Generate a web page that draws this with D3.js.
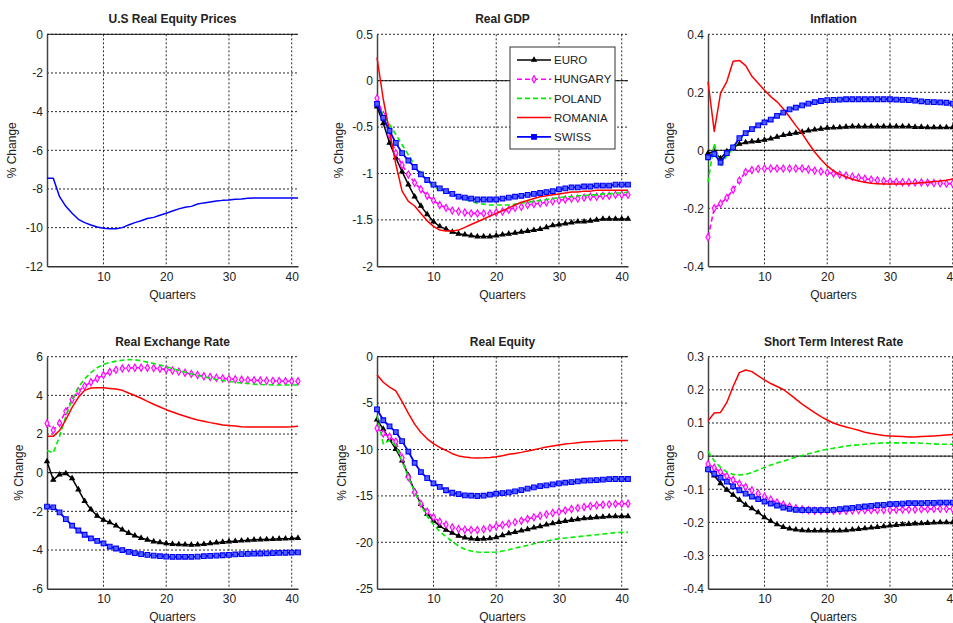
<!DOCTYPE html>
<html>
<head>
<meta charset="utf-8">
<script src="https://cdn.jsdelivr.net/npm/d3@7"></script>
<style>
  body { margin: 0; background: #fff; }
  svg text { font-family: "Liberation Sans", Arial, sans-serif; fill: #222; }
</style>
</head>
<body>
<svg id="chart" width="953" height="623"></svg>
<script>
// quarters 1..41
var quarters = d3.range(1, 42);

// ---- U.S real equity prices
var usEquity = [-7.45,-7.45,-8.4,-8.9,-9.26,-9.57,-9.74,-9.86,-9.97,-10.03,
  -10.06,-10.06,-10.0,-9.86,-9.74,-9.64,-9.53,-9.47,-9.36,-9.26,
  -9.14,-9.03,-8.95,-8.9,-8.78,-8.72,-8.67,-8.62,-8.59,-8.57,
  -8.53,-8.52,-8.48,-8.47,-8.47,-8.47,-8.47,-8.47,-8.47,-8.47,-8.47];

// ---- Real GDP
var gdpEuro = [-0.28,-0.46,-0.67,-0.83,-0.98,-1.12,-1.25,-1.35,-1.44,-1.52,
  -1.57,-1.6,-1.63,-1.65,-1.66,-1.67,-1.68,-1.68,-1.68,-1.67,
  -1.66,-1.65,-1.64,-1.63,-1.62,-1.61,-1.6,-1.58,-1.56,-1.55,
  -1.54,-1.53,-1.52,-1.52,-1.51,-1.5,-1.49,-1.49,-1.49,-1.49,-1.49];
var gdpHungary = [-0.19,-0.37,-0.58,-0.78,-0.91,-1.01,-1.1,-1.17,-1.24,-1.29,
  -1.34,-1.37,-1.4,-1.41,-1.42,-1.43,-1.43,-1.43,-1.43,-1.42,
  -1.41,-1.39,-1.37,-1.36,-1.34,-1.33,-1.32,-1.31,-1.3,-1.29,
  -1.28,-1.27,-1.27,-1.26,-1.25,-1.25,-1.24,-1.24,-1.23,-1.23,-1.23];
var gdpPoland = [-0.24,-0.37,-0.47,-0.58,-0.69,-0.8,-0.91,-0.99,-1.08,-1.14,
  -1.18,-1.21,-1.23,-1.26,-1.28,-1.3,-1.32,-1.33,-1.34,-1.34,
  -1.34,-1.34,-1.33,-1.32,-1.31,-1.3,-1.29,-1.28,-1.27,-1.26,
  -1.25,-1.25,-1.24,-1.24,-1.23,-1.23,-1.22,-1.22,-1.21,-1.21,-1.2];
var gdpRomania = [0.25,-0.2,-0.55,-0.9,-1.19,-1.3,-1.35,-1.43,-1.51,-1.57,
  -1.61,-1.62,-1.62,-1.61,-1.58,-1.55,-1.52,-1.49,-1.46,-1.43,
  -1.4,-1.37,-1.34,-1.31,-1.29,-1.27,-1.25,-1.24,-1.23,-1.22,
  -1.21,-1.2,-1.2,-1.19,-1.19,-1.18,-1.18,-1.18,-1.18,-1.18,-1.18];
var gdpSwiss = [-0.25,-0.4,-0.54,-0.67,-0.78,-0.86,-0.93,-1.01,-1.07,-1.12,
  -1.16,-1.19,-1.22,-1.25,-1.26,-1.27,-1.28,-1.28,-1.28,-1.28,
  -1.27,-1.26,-1.25,-1.24,-1.23,-1.22,-1.21,-1.2,-1.19,-1.17,
  -1.16,-1.15,-1.15,-1.14,-1.14,-1.13,-1.13,-1.13,-1.12,-1.12,-1.12];

// ---- Inflation
var infEuro = [-0.01,-0.004,-0.028,-0.004,0.008,0.022,0.027,0.03,0.032,0.036,
  0.04,0.046,0.052,0.056,0.06,0.063,0.068,0.071,0.074,0.077,
  0.078,0.079,0.081,0.082,0.082,0.082,0.082,0.082,0.082,0.082,
  0.082,0.082,0.082,0.08,0.08,0.079,0.079,0.079,0.079,0.079,0.079];
var infHungary = [-0.3,-0.2,-0.184,-0.164,-0.136,-0.104,-0.075,-0.068,-0.064,-0.063,
  -0.063,-0.063,-0.063,-0.063,-0.063,-0.063,-0.066,-0.07,-0.073,-0.077,
  -0.08,-0.084,-0.087,-0.091,-0.094,-0.098,-0.101,-0.103,-0.106,-0.108,
  -0.109,-0.11,-0.11,-0.111,-0.111,-0.112,-0.113,-0.114,-0.115,-0.115,-0.115];
var infPoland = [-0.11,0.024,-0.056,-0.018,0.006,0.038,0.055,0.075,0.09,0.099,
  0.108,0.12,0.131,0.142,0.149,0.157,0.163,0.168,0.172,0.175,
  0.177,0.178,0.178,0.178,0.178,0.178,0.178,0.178,0.178,0.177,
  0.176,0.175,0.174,0.172,0.17,0.168,0.167,0.165,0.164,0.162,0.161];
var infRomania = [0.237,0.065,0.197,0.237,0.307,0.31,0.292,0.255,0.231,0.207,
  0.185,0.167,0.143,0.115,0.085,0.058,0.025,-0.006,-0.032,-0.054,
  -0.071,-0.083,-0.092,-0.1,-0.106,-0.11,-0.114,-0.115,-0.116,-0.116,
  -0.116,-0.116,-0.115,-0.114,-0.112,-0.11,-0.108,-0.106,-0.103,-0.099,-0.097];
var infSwiss = [-0.024,-0.013,-0.042,-0.01,0.01,0.042,0.059,0.073,0.086,0.096,
  0.106,0.119,0.13,0.141,0.147,0.155,0.161,0.166,0.17,0.173,
  0.174,0.175,0.176,0.176,0.176,0.176,0.176,0.176,0.176,0.176,
  0.175,0.174,0.173,0.171,0.169,0.167,0.166,0.165,0.164,0.161,0.16];

// ---- Real exchange rate
var rerEuro = [0.58,-0.37,-0.1,-0.04,-0.29,-0.87,-1.47,-1.9,-2.23,-2.44,
  -2.57,-2.74,-2.95,-3.12,-3.26,-3.38,-3.47,-3.56,-3.61,-3.66,
  -3.69,-3.71,-3.72,-3.73,-3.72,-3.7,-3.66,-3.62,-3.59,-3.56,
  -3.54,-3.52,-3.5,-3.47,-3.46,-3.45,-3.44,-3.42,-3.41,-3.4,-3.38];
var rerHungary = [2.55,2.2,2.57,3.17,3.79,4.22,4.48,4.68,4.87,5.05,
  5.21,5.32,5.39,5.41,5.43,5.43,5.43,5.41,5.38,5.34,
  5.29,5.23,5.17,5.11,5.05,4.99,4.95,4.91,4.88,4.85,
  4.83,4.81,4.79,4.78,4.77,4.76,4.75,4.74,4.73,4.73,4.73];
var rerPoland = [1.15,1.02,1.88,2.91,3.77,4.42,4.85,5.17,5.43,5.6,
  5.7,5.77,5.82,5.85,5.84,5.79,5.72,5.65,5.57,5.48,
  5.39,5.29,5.2,5.11,5.03,4.96,4.89,4.82,4.77,4.72,
  4.68,4.64,4.61,4.58,4.56,4.55,4.54,4.54,4.54,4.54,4.54];
var rerRomania = [1.88,1.88,2.18,2.74,3.38,3.9,4.26,4.38,4.4,4.39,
  4.36,4.33,4.26,4.12,3.99,3.85,3.69,3.54,3.4,3.26,
  3.14,3.02,2.92,2.82,2.73,2.66,2.59,2.53,2.47,2.44,
  2.41,2.38,2.37,2.37,2.37,2.37,2.37,2.37,2.37,2.38,2.4];
var rerSwiss = [-1.75,-1.79,-2.05,-2.4,-2.74,-2.99,-3.21,-3.4,-3.53,-3.66,
  -3.82,-3.92,-4.0,-4.1,-4.16,-4.21,-4.25,-4.29,-4.32,-4.34,
  -4.35,-4.35,-4.35,-4.35,-4.34,-4.32,-4.3,-4.29,-4.27,-4.25,
  -4.23,-4.21,-4.2,-4.19,-4.18,-4.17,-4.16,-4.15,-4.14,-4.13,-4.12];

// ---- Real equity
var eqEuro = [-6.78,-7.8,-8.9,-9.95,-11.2,-12.8,-14.5,-15.9,-16.95,-17.67,
  -18.26,-18.66,-18.98,-19.32,-19.5,-19.61,-19.65,-19.62,-19.58,-19.47,
  -19.25,-19.04,-18.9,-18.75,-18.6,-18.43,-18.28,-18.1,-17.96,-17.82,
  -17.71,-17.6,-17.52,-17.42,-17.37,-17.31,-17.27,-17.22,-17.2,-17.2,-17.2];
var eqHungary = [-7.71,-8.28,-8.61,-9.15,-10.9,-13.0,-14.6,-15.85,-16.7,-17.3,
  -17.78,-18.1,-18.39,-18.57,-18.64,-18.68,-18.68,-18.6,-18.46,-18.28,
  -18.14,-18.0,-17.83,-17.67,-17.49,-17.31,-17.14,-16.99,-16.84,-16.7,
  -16.56,-16.42,-16.31,-16.2,-16.1,-16.02,-15.95,-15.91,-15.86,-15.84,-15.84];
var eqPoland = [-6.35,-9.4,-9.0,-9.6,-11.3,-13.0,-14.6,-16.0,-17.2,-18.05,
  -18.84,-19.4,-19.9,-20.4,-20.74,-20.94,-21.05,-21.08,-21.08,-21.05,
  -20.94,-20.8,-20.62,-20.47,-20.33,-20.15,-20.0,-19.86,-19.72,-19.61,
  -19.54,-19.47,-19.4,-19.32,-19.25,-19.18,-19.11,-19.04,-18.95,-18.93,-18.93];
var eqRomania = [-1.94,-2.75,-3.27,-3.68,-4.85,-6.1,-7.27,-8.16,-8.85,-9.37,
  -9.78,-10.1,-10.45,-10.69,-10.81,-10.88,-10.92,-10.9,-10.85,-10.78,
  -10.67,-10.52,-10.42,-10.31,-10.17,-10.03,-9.88,-9.74,-9.63,-9.52,
  -9.41,-9.34,-9.27,-9.2,-9.16,-9.13,-9.09,-9.05,-9.02,-9.02,-9.02];
var eqSwiss = [-5.67,-6.85,-7.5,-8.12,-9.1,-10.22,-11.45,-12.43,-13.08,-13.64,
  -14.03,-14.39,-14.66,-14.8,-14.94,-14.98,-15.01,-14.98,-14.87,-14.76,
  -14.69,-14.62,-14.51,-14.37,-14.22,-14.08,-13.94,-13.87,-13.76,-13.65,
  -13.58,-13.51,-13.44,-13.36,-13.33,-13.29,-13.25,-13.2,-13.18,-13.18,-13.18];

// ---- Short term interest rate
var irEuro = [-0.04,-0.059,-0.082,-0.102,-0.117,-0.132,-0.147,-0.158,-0.17,-0.185,
  -0.196,-0.206,-0.214,-0.219,-0.222,-0.224,-0.225,-0.225,-0.225,-0.225,
  -0.225,-0.225,-0.224,-0.222,-0.22,-0.218,-0.216,-0.214,-0.212,-0.21,
  -0.208,-0.206,-0.205,-0.204,-0.203,-0.202,-0.201,-0.2,-0.2,-0.2,-0.2];
var irHungary = [-0.024,-0.035,-0.048,-0.06,-0.072,-0.083,-0.093,-0.103,-0.113,-0.122,
  -0.131,-0.14,-0.146,-0.152,-0.157,-0.161,-0.163,-0.165,-0.165,-0.165,
  -0.165,-0.165,-0.165,-0.164,-0.163,-0.163,-0.163,-0.163,-0.163,-0.163,
  -0.162,-0.161,-0.161,-0.161,-0.16,-0.16,-0.159,-0.159,-0.159,-0.159,-0.159];
var irPoland = [0.014,-0.014,-0.034,-0.048,-0.055,-0.057,-0.055,-0.049,-0.042,-0.034,
  -0.027,-0.021,-0.015,-0.009,-0.003,0.002,0.007,0.012,0.017,0.021,
  0.024,0.027,0.03,0.033,0.034,0.036,0.038,0.039,0.04,0.04,
  0.04,0.04,0.04,0.04,0.039,0.038,0.037,0.036,0.036,0.036,0.036];
var irRomania = [0.107,0.13,0.132,0.162,0.21,0.252,0.26,0.255,0.242,0.23,
  0.219,0.21,0.201,0.187,0.172,0.157,0.144,0.131,0.119,0.109,
  0.1,0.093,0.088,0.083,0.078,0.072,0.068,0.065,0.062,0.061,
  0.06,0.059,0.058,0.058,0.059,0.06,0.061,0.062,0.064,0.065,0.064];
var irSwiss = [-0.04,-0.053,-0.065,-0.077,-0.091,-0.103,-0.113,-0.122,-0.13,-0.137,
  -0.143,-0.149,-0.155,-0.159,-0.162,-0.163,-0.163,-0.163,-0.163,-0.163,
  -0.162,-0.16,-0.158,-0.156,-0.154,-0.152,-0.15,-0.148,-0.147,-0.145,
  -0.144,-0.143,-0.142,-0.142,-0.142,-0.141,-0.141,-0.14,-0.14,-0.14,-0.14];

var countries = ["EURO", "HUNGARY", "POLAND", "ROMANIA", "SWISS"];

// line / marker look for each country
var styles = {
  "EURO":    { color: "#000000", width: 1.5, dash: null,  marker: d3.symbolTriangle, msize: 9,  fill: "#000000" },
  "HUNGARY": { color: "#ff00ff", width: 1.6, dash: "5,3", marker: d3.symbolDiamond,  msize: 15, fill: "#ffd0ff" },
  "POLAND":  { color: "#00ee00", width: 1.6, dash: "5,3", marker: null },
  "ROMANIA": { color: "#ff0000", width: 1.5, dash: null,  marker: null },
  "SWISS":   { color: "#0000ff", width: 1.8, dash: null,  marker: d3.symbolSquare,   msize: 22, fill: "#5060ff" },
  "US":      { color: "#0000ff", width: 1.5, dash: null,  marker: null }
};

var panels = [
  { title: "U.S Real Equity Prices", domain: [-12, 0], step: 2, series: [["US", usEquity]] },
  { title: "Real GDP", domain: [-2, 0.5], step: 0.5, legend: true,
    series: [["EURO", gdpEuro], ["HUNGARY", gdpHungary], ["POLAND", gdpPoland], ["ROMANIA", gdpRomania], ["SWISS", gdpSwiss]] },
  { title: "Inflation", domain: [-0.4, 0.4], step: 0.2,
    series: [["EURO", infEuro], ["HUNGARY", infHungary], ["POLAND", infPoland], ["ROMANIA", infRomania], ["SWISS", infSwiss]] },
  { title: "Real Exchange Rate", domain: [-6, 6], step: 2,
    series: [["EURO", rerEuro], ["HUNGARY", rerHungary], ["POLAND", rerPoland], ["ROMANIA", rerRomania], ["SWISS", rerSwiss]] },
  { title: "Real Equity", domain: [-25, 0], step: 5,
    series: [["EURO", eqEuro], ["HUNGARY", eqHungary], ["POLAND", eqPoland], ["ROMANIA", eqRomania], ["SWISS", eqSwiss]] },
  { title: "Short Term Interest Rate", domain: [-0.4, 0.3], step: 0.1,
    series: [["EURO", irEuro], ["HUNGARY", irHungary], ["POLAND", irPoland], ["ROMANIA", irRomania], ["SWISS", irSwiss]] }
];

var colLeft = [47, 377, 708];
var rowTop = [34.3, 356.7];
var plotW = 251, plotH = 232;

var svg = d3.select("#chart");

function fmt(v) {
  var r = Math.round(v * 1000) / 1000;
  return String(r);
}

panels.forEach(function (p, i) {
  var left = colLeft[i % 3], top = rowTop[Math.floor(i / 3)];
  var x = d3.scaleLinear().domain([1, 41]).range([0, plotW]);
  var y = d3.scaleLinear().domain(p.domain).range([plotH, 0]);
  var yTicks = d3.range(p.domain[0], p.domain[1] + p.step / 2, p.step).map(function (v) { return Math.round(v * 1000) / 1000; });
  var xTicks = [10, 20, 30, 40];

  var g = svg.append("g").attr("transform", "translate(" + left + "," + top + ")");

  // grid
  g.selectAll("line.gy").data(yTicks.filter(function (v) { return v !== p.domain[0]; }))
    .enter().append("line").attr("class", "gy")
    .attr("x1", 0).attr("x2", plotW)
    .attr("y1", function (d) { return y(d); }).attr("y2", function (d) { return y(d); })
    .attr("stroke", "#111").attr("stroke-width", 0.9).attr("stroke-dasharray", "2,2");
  g.selectAll("line.gx").data(xTicks)
    .enter().append("line").attr("class", "gx")
    .attr("y1", 0).attr("y2", plotH)
    .attr("x1", function (d) { return x(d); }).attr("x2", function (d) { return x(d); })
    .attr("stroke", "#111").attr("stroke-width", 0.9).attr("stroke-dasharray", "2,2");

  // zero line
  if (p.domain[0] < 0 && p.domain[1] >= 0) {
    g.append("line").attr("x1", 0).attr("x2", plotW).attr("y1", y(0)).attr("y2", y(0))
      .attr("stroke", "#111").attr("stroke-width", 1);
  }

  // axes
  var ax = g.append("g").attr("transform", "translate(0," + plotH + ")")
    .call(d3.axisBottom(x).tickValues(xTicks).tickSize(0).tickPadding(6).tickFormat(d3.format("d")));
  ax.select(".domain").attr("stroke", "#333").attr("stroke-width", 1.5);
  ax.selectAll("text").attr("font-size", "12px").attr("fill", "#222");

  var ay = g.append("g")
    .call(d3.axisLeft(y).tickValues(yTicks).tickSize(0).tickPadding(4).tickFormat(fmt));
  ay.select(".domain").attr("stroke", "#444").attr("stroke-width", 1.5);
  ay.selectAll("text").attr("font-size", "12px").attr("fill", "#222");

  var maxW = 0;
  ay.selectAll("text").each(function () { maxW = Math.max(maxW, this.getBBox().width); });

  // titles and labels
  g.append("text").attr("x", plotW / 2).attr("y", -11).attr("text-anchor", "middle")
    .attr("font-size", "12px").attr("font-weight", "bold").text(p.title);
  g.append("text").attr("x", plotW / 2).attr("y", plotH + 32.5).attr("text-anchor", "middle")
    .attr("font-size", "12px").text("Quarters");
  g.append("text")
    .attr("transform", "translate(" + (-maxW - 13) + "," + (plotH / 2) + ") rotate(-90)")
    .attr("text-anchor", "middle").attr("font-size", "12px").text("% Change");

  // series
  p.series.forEach(function (s) {
    var st = styles[s[0]], vals = s[1];
    var pts = quarters.map(function (q, k) { return [q, vals[k]]; });
    var line = d3.line().x(function (d) { return x(d[0]); }).y(function (d) { return y(d[1]); });
    g.append("path").datum(pts).attr("d", line)
      .attr("fill", "none").attr("stroke", st.color).attr("stroke-width", st.width)
      .attr("stroke-dasharray", st.dash).attr("stroke-linejoin", "round");
    if (st.marker) {
      g.selectAll(null).data(pts).enter().append("path")
        .attr("d", d3.symbol().type(st.marker).size(st.msize))
        .attr("transform", function (d) { return "translate(" + x(d[0]) + "," + y(d[1]) + ")"; })
        .attr("fill", st.fill).attr("stroke", st.color).attr("stroke-width", 1.1);
    }
  });

  // legend
  if (p.legend) {
    var lg = svg.append("g").attr("transform", "translate(510,47)");
    lg.append("rect").attr("width", 105).attr("height", 102)
      .attr("fill", "#fff").attr("stroke", "#333").attr("stroke-width", 1);
    countries.forEach(function (c, k) {
      var st = styles[c], ly = 13 + k * 19.2;
      lg.append("line").attr("x1", 7).attr("x2", 41).attr("y1", ly).attr("y2", ly)
        .attr("stroke", st.color).attr("stroke-width", st.width).attr("stroke-dasharray", st.dash);
      if (st.marker) {
        lg.append("path").attr("d", d3.symbol().type(st.marker).size(st.msize))
          .attr("transform", "translate(24," + ly + ")")
          .attr("fill", c === "SWISS" ? st.color : st.fill).attr("stroke", st.color).attr("stroke-width", 1.1);
      }
      lg.append("text").attr("x", 44).attr("y", ly).attr("dy", "0.36em")
        .attr("font-size", "11.5px").text(c);
    });
  }
});
</script>
</body>
</html>
